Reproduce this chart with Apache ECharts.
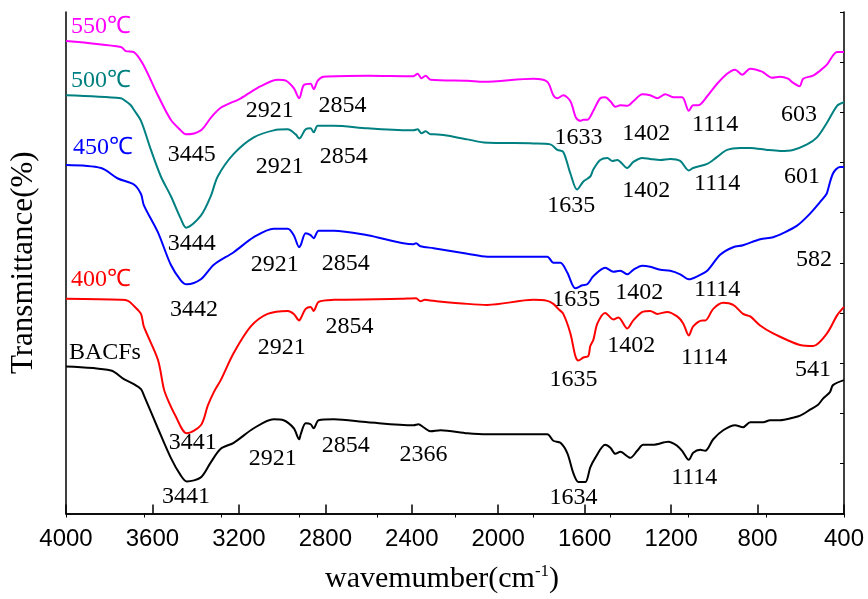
<!DOCTYPE html>
<html><head><meta charset="utf-8">
<script src="https://cdn.jsdelivr.net/npm/echarts@6/dist/echarts.min.js"></script>
<style>html,body{margin:0;padding:0;background:#fff}#c{width:868px;height:599px}</style>
</head><body><div id="c"></div>
<script>
// x tick labels (wavenumber, cm-1)
const xTicks = [4000, 3600, 3200, 2800, 2400, 2000, 1600, 1200, 800, 400];
const seriesNames = ['550℃', '500℃', '450℃', '400℃', 'BACFs'];

// [wavenumber, transmittance (arbitrary, offset)]
const s550 = [[4000,94.2],[3746,93.0],[3723,92.2],[3686,92.0],[3640,89.3],[3575,83.4],[3515,78.5],[3469,76.4],[3445,75.6],[3376,76.4],[3330,78.9],[3284,80.9],[3191,82.8],[3099,85.2],[3020,86.5],[2983,86.3],[2946,84.8],[2921,82.8],[2900,85.4],[2868,85.7],[2854,84.6],[2835,86.3],[2808,87.1],[2604,87.3],[2392,87.2],[2373,87.7],[2355,86.8],[2336,87.3],[2313,86.5],[2142,86.3],[2068,86.1],[1837,86.7],[1773,86.1],[1745,83.4],[1726,82.8],[1699,83.4],[1666,82.2],[1640,78.9],[1620,78.3],[1606,78.5],[1588,78.5],[1560,80.3],[1528,82.8],[1505,83.0],[1481,82.2],[1458,81.1],[1435,81.4],[1402,81.3],[1375,82.2],[1333,83.6],[1297,83.4],[1264,82.8],[1227,83.6],[1190,83.0],[1149,83.0],[1118,80.3],[1098,81.4],[1075,81.4],[1033,83.2],[987,85.7],[941,87.7],[904,88.5],[871,87.5],[834,88.7],[779,88.1],[733,86.9],[696,87.1],[659,86.7],[636,85.9],[605,85.2],[589,86.7],[543,87.3],[511,88.3],[479,89.5],[432,92.0],[400,92.0]];
const s500 = [[4000,83.4],[3746,82.8],[3723,82.2],[3700,81.4],[3686,80.5],[3653,78.3],[3607,72.5],[3561,67.2],[3515,63.3],[3469,58.8],[3444,57.0],[3376,59.4],[3330,63.3],[3298,67.2],[3224,71.7],[3131,75.0],[3039,76.4],[2974,76.6],[2937,75.6],[2921,74.8],[2914,75.0],[2891,76.6],[2868,76.8],[2854,76.0],[2835,77.3],[2761,77.3],[2604,76.8],[2392,76.4],[2373,76.6],[2355,75.8],[2336,76.2],[2313,75.6],[2299,75.6],[2142,74.6],[2068,74.0],[1837,73.8],[1759,73.6],[1726,72.5],[1699,72.1],[1666,67.8],[1635,64.6],[1606,66.2],[1574,67.2],[1560,68.6],[1528,70.5],[1495,70.9],[1472,70.3],[1449,70.5],[1403,68.9],[1375,70.1],[1333,70.9],[1297,70.7],[1250,70.5],[1204,70.7],[1158,70.3],[1118,68.4],[1098,68.9],[1033,69.7],[987,71.1],[941,72.5],[881,72.9],[834,72.9],[756,72.5],[696,72.3],[636,72.5],[571,73.6],[525,75.0],[479,77.9],[432,81.3],[400,82.0]];
const s450 = [[4000,69.5],[3838,68.9],[3760,66.8],[3686,65.6],[3653,63.7],[3640,61.5],[3575,56.1],[3515,49.6],[3469,46.5],[3442,45.7],[3376,46.7],[3316,49.6],[3224,52.1],[3131,55.1],[3039,56.8],[2974,56.8],[2946,55.5],[2921,53.1],[2914,53.5],[2891,55.9],[2868,55.5],[2854,54.9],[2831,56.4],[2761,56.4],[2604,55.5],[2392,53.7],[2380,53.9],[2360,53.3],[2299,52.9],[2142,51.8],[2050,51.2],[1773,51.2],[1745,50.0],[1712,50.0],[1680,48.0],[1643,44.9],[1611,45.5],[1588,45.7],[1560,47.3],[1505,49.0],[1467,48.2],[1435,48.4],[1402,47.7],[1375,48.6],[1333,49.4],[1297,49.2],[1250,48.6],[1204,48.4],[1158,47.7],[1118,46.7],[1079,47.3],[1033,48.4],[973,51.6],[913,53.1],[867,53.5],[788,54.7],[728,55.1],[682,55.9],[617,57.4],[557,59.8],[511,62.1],[488,63.3],[479,63.9],[451,67.8],[419,69.1],[400,69.1]];
const s400 = [[4000,42.8],[3746,42.6],[3713,42.4],[3686,41.4],[3653,39.8],[3640,37.3],[3575,30.7],[3547,24.8],[3529,22.7],[3496,19.7],[3441,16.0],[3376,17.6],[3344,21.5],[3316,24.2],[3284,26.6],[3224,32.0],[3145,37.3],[3067,39.8],[2974,40.4],[2946,39.8],[2921,38.5],[2914,38.9],[2891,40.8],[2868,41.2],[2854,40.4],[2831,42.2],[2761,42.6],[2452,42.8],[2380,42.9],[2360,42.3],[2340,42.6],[2299,42.4],[2142,41.8],[2050,41.6],[1837,42.6],[1773,42.4],[1745,41.8],[1722,40.8],[1699,39.8],[1666,35.9],[1643,31.4],[1629,30.5],[1606,31.1],[1583,31.4],[1574,33.4],[1560,34.6],[1541,37.9],[1505,40.0],[1467,38.7],[1444,39.1],[1403,36.9],[1375,38.5],[1333,40.2],[1297,40.4],[1264,39.8],[1218,40.2],[1172,39.3],[1144,37.9],[1118,35.5],[1098,37.3],[1056,38.5],[1042,38.5],[1005,40.8],[959,42.0],[913,41.6],[867,39.8],[834,39.3],[788,37.5],[728,35.9],[663,34.6],[603,33.6],[543,33.4],[479,35.9],[432,39.5],[400,41.2]];
const sBACF = [[4000,29.3],[3792,28.5],[3732,26.8],[3686,25.8],[3653,24.8],[3640,23.6],[3575,17.0],[3515,11.1],[3469,7.6],[3441,6.4],[3376,7.2],[3330,10.2],[3284,12.9],[3224,14.1],[3131,17.0],[3039,18.8],[2993,18.6],[2946,17.0],[2921,14.8],[2914,15.8],[2891,18.0],[2868,17.8],[2854,17.0],[2831,18.6],[2761,18.8],[2604,18.2],[2392,17.6],[2369,17.8],[2346,17.2],[2313,16.4],[2267,16.6],[2142,16.0],[2050,15.8],[1773,15.8],[1745,14.5],[1712,14.1],[1680,12.0],[1652,8.0],[1629,6.3],[1597,6.3],[1574,9.2],[1551,11.1],[1505,13.7],[1481,13.1],[1458,11.9],[1435,12.3],[1389,11.1],[1357,12.5],[1329,13.7],[1283,13.7],[1213,14.3],[1172,13.5],[1149,12.5],[1118,10.7],[1098,12.1],[1065,12.7],[1042,12.5],[1005,14.8],[959,16.6],[904,17.6],[867,17.2],[834,18.2],[774,18.2],[742,18.6],[696,18.6],[636,19.1],[603,19.5],[557,20.7],[520,21.7],[497,22.9],[465,24.2],[451,25.6],[400,26.6]];

const seriesData = [s550, s500, s450, s400, sBACF];
const seriesColors = ['#ff00ff', '#008080', '#0000ff', '#ff0000', '#000000'];

// series name labels: [text, wavenumber, transmittance]
const nameLabels = [['550℃',3838,97.1],['500℃',3838,86.3],['450℃',3829,73.0],['400℃',3838,46.7],['BACFs',3820,32.0]];
// peak labels: [text, wavenumber, transmittance]
const peakLabels = [
 ['3445',3418,71.5],['2921',3057,80.3],['2854',2720,81.3],['1633',1629,75.0],['1402',1315,75.8],['1114',996,77.5],['603',608,79.5],
 ['3444',3418,53.7],['2921',3011,69.1],['2854',2715,71.1],['1635',1662,61.3],['1402',1315,64.3],['1114',987,65.8],['601',594,67.2],
 ['3442',3408,40.6],['2921',3034,49.6],['2854',2706,49.8],['1635',1639,42.6],['1402',1347,44.1],['1114',987,44.7],['582',539,50.6],
 ['3441',3413,14.1],['2921',3002,33.0],['2854',2688,37.3],['1635',1652,26.6],['1402',1384,33.4],['1114',1047,31.1],['541',543,28.7],
 ['3441',3445,3.3],['2921',3043,10.9],['2854',2706,13.5],['2366',2346,11.7],['1634',1652,3.1],['1114',1093,7.2]
];

const serif = 'Liberation Serif, Times New Roman, serif';
const chart = echarts.init(document.getElementById('c'));
const series = seriesData.map((d, i) => ({
  type: 'line', name: seriesNames[i], data: d, showSymbol: false, smooth: 0.3,
  xAxisIndex: 0, yAxisIndex: 0, lineStyle: { color: seriesColors[i], width: 2 }, silent: true
}));
const textLabel = (color, size) => ({
  show: true, position: [0, 0], align: 'center', verticalAlign: 'middle',
  formatter: p => p.name, fontFamily: serif, fontSize: size, color: color, textBorderWidth: 0, opacity: 1
});
series.push({
  type: 'scatter', xAxisIndex: 0, yAxisIndex: 0, symbolSize: 0, itemStyle: { color: 'rgba(0,0,0,0)' }, silent: true,
  data: nameLabels.map((l, i) => ({ value: [l[1], l[2]], name: l[0], label: textLabel(seriesColors[i], 24) }))
});
series.push({
  type: 'scatter', xAxisIndex: 0, yAxisIndex: 0, symbolSize: 0, itemStyle: { color: 'rgba(0,0,0,0)' }, silent: true,
  data: peakLabels.map(l => ({ value: [l[1], l[2]], name: l[0], label: textLabel('#000', 24) }))
});

chart.setOption({
  animation: false,
  grid: { left: 65, right: 24, top: 12, bottom: 75 },
  xAxis: [{
    type: 'value', min: 400, max: 4000, interval: 400, inverse: true, position: 'bottom',
    axisLine: { lineStyle: { color: '#000', width: 1.5 } },
    axisTick: { inside: true, length: 9, lineStyle: { color: '#000', width: 1.5 } },
    axisLabel: { color: '#000', fontFamily: 'Liberation Sans, Arial, sans-serif', fontSize: 24, margin: 14,
      formatter: v => xTicks.indexOf(v) >= 0 ? String(v) : '' },
    splitLine: { show: false },
    name: '{a|wavemumber(cm}{s|-1}{a|)}', nameLocation: 'middle', nameGap: 50,
    nameTextStyle: { padding: [0, 26, 0, 0], rich: {
      a: { fontFamily: serif, fontSize: 30, color: '#000' },
      s: { fontFamily: serif, fontSize: 17, color: '#000', verticalAlign: 'top', padding: [0, 0, 14, 0] } } }
  }, {
    type: 'value', min: 0, max: 10, interval: 1, position: 'top',
    axisLine: { lineStyle: { color: '#000', width: 1.5 } },
    axisTick: { inside: true, length: 4, lineStyle: { color: '#000', width: 1 } },
    axisLabel: { show: false }, splitLine: { show: false }
  }],
  yAxis: [{
    type: 'value', min: 0, max: 100, interval: 10, position: 'left',
    axisLine: { show: true, lineStyle: { color: '#000', width: 1.5 } },
    axisTick: { show: false }, axisLabel: { show: false }, splitLine: { show: false },
    name: 'Transmittance(%)', nameLocation: 'middle', nameGap: 27,
    nameTextStyle: { fontFamily: serif, fontSize: 31, color: '#000' }
  }, {
    type: 'value', min: 0, max: 100, interval: 10, position: 'right',
    axisLine: { show: true, lineStyle: { color: '#000', width: 1.5 } },
    axisTick: { inside: true, length: 4, lineStyle: { color: '#000', width: 1 } },
    axisLabel: { show: false }, splitLine: { show: false }
  }],
  series: series
});
</script></body></html>
